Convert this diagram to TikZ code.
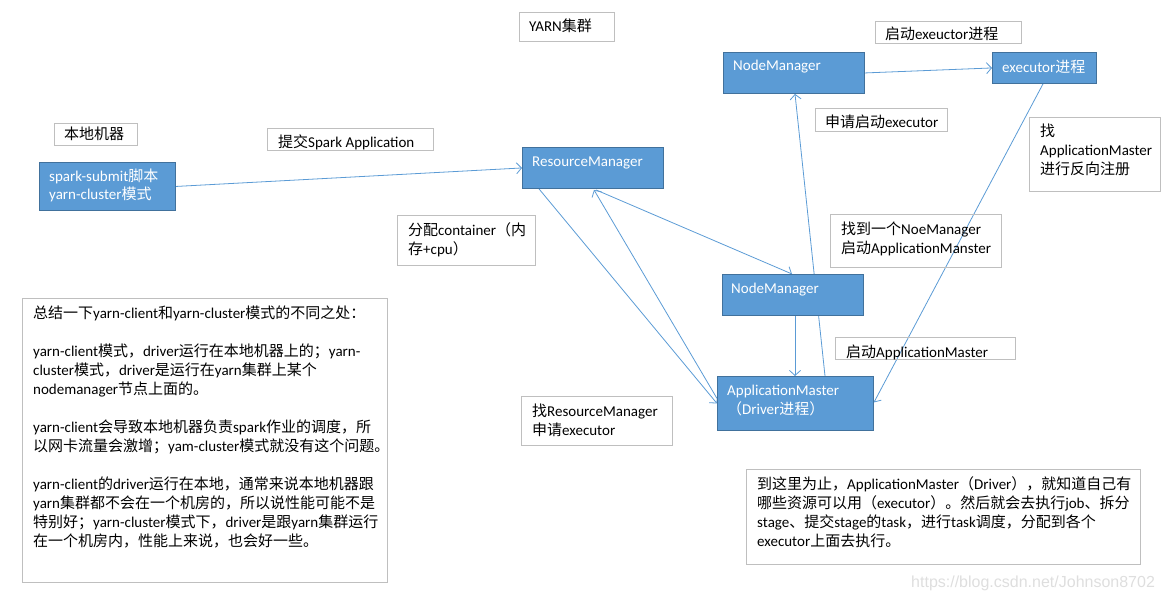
\documentclass[tikz,border=0pt]{standalone}
\usepackage{fontspec}
\setmainfont{Carlito}
\newfontfamily\cjk{Noto Sans CJK SC}
\newfontfamily\wmfont{Liberation Sans}
\usetikzlibrary{arrows.meta}

% switch to the CJK font for Chinese characters
\XeTeXinterchartokenstate=1
\newXeTeXintercharclass\zhclass
\newcount\zhc
\def\setzhrange#1#2{\zhc=#1\relax
  \loop\XeTeXcharclass\zhc=\zhclass\ifnum\zhc<#2\advance\zhc by 1\repeat}
\setzhrange{"3000}{"303F}
\setzhrange{"4E00}{"9FFF}
\setzhrange{"FF00}{"FFEF}
\XeTeXinterchartoks 0 \zhclass = {\begingroup\cjk}
\XeTeXinterchartoks 4095 \zhclass = {\begingroup\cjk}
\XeTeXinterchartoks \zhclass 0 = {\endgroup}
\XeTeXinterchartoks \zhclass 4095 = {\endgroup}

\definecolor{boxblue}{HTML}{5B9BD5}
\definecolor{boxedge}{HTML}{41719C}
\definecolor{linkblue}{HTML}{5B9BD5}
\definecolor{greyedge}{HTML}{BFBFBF}

\pgfdeclarelayer{bg}
\pgfsetlayers{bg,main}

\tikzset{
  bluebox/.style={draw=boxedge, fill=boxblue, line width=0.9pt, anchor=north west, inner sep=0pt},
  greybox/.style={draw=greyedge, line width=0.9pt, anchor=north west, inner sep=0pt},
  wtext/.style={text=white, align=left, inner sep=0pt, anchor=base west},
  ktext/.style={text=black, align=left, inner sep=0pt, anchor=base west},
  conn/.style={draw=linkblue, line width=0.8pt, -{Straight Barb[length=5pt,width=11pt]}},
}

\begin{document}
\begin{tikzpicture}[x=1pt, y=-1pt, font=\fontsize{15}{19}\selectfont]

  \useasboundingbox (0,0) rectangle (1162,599);

  %% Local machine
  % (multi-line texts are placed at the baseline of their last line)

  \node[greybox, minimum width=83, minimum height=22] (localbox) at (54,123) {};
  \node[ktext] (localtext) at (64,140) {本地机器};

  \node[bluebox, minimum width=136, minimum height=48] (spark) at (39,162) {};
  \node[wtext] (sparktext) at (49,200) {spark-submit脚本\\yarn-cluster模式};

  \node[greybox, minimum width=166, minimum height=22] (submitbox) at (267,128) {};
  \node[ktext] (submittext) at (278,148) {提交Spark Application};

  %% YARN cluster

  \node[greybox, minimum width=95, minimum height=29] (yarnbox) at (519,12) {};
  \node[ktext] (yarntext) at (529,32) {YARN集群};

  % ResourceManager
  \node[bluebox, minimum width=141, minimum height=41] (rm) at (522,147) {};
  \node[wtext] (rmtext) at (532,166) {ResourceManager};

  % NodeManager (top)
  \node[bluebox, minimum width=141, minimum height=41] (nm1) at (723,52) {};
  \node[wtext] (nm1text) at (733,71) {NodeManager};

  % executor
  \node[bluebox, minimum width=104, minimum height=31] (exe) at (992,52) {};
  \node[wtext] (exetext) at (1002,73) {executor进程};

  % NodeManager (middle)
  \node[bluebox, minimum width=141, minimum height=41] (nm2) at (722,274) {};
  \node[wtext] (nm2text) at (731,293) {NodeManager};

  % ApplicationMaster
  \node[bluebox, minimum width=156, minimum height=54] (am) at (717,376) {};
  \node[wtext] (amtext) at (727,414) {ApplicationMaster\\（Driver进程）};

  %% Step labels

  \node[greybox, minimum width=146, minimum height=22] (startexebox) at (875,21) {};
  \node[ktext] (startexetext) at (885,40) {启动exeuctor进程};

  \node[greybox, minimum width=132, minimum height=23] (askexebox) at (815,108) {};
  \node[ktext] (askexetext) at (825,128) {申请启动executor};

  \node[greybox, minimum width=131, minimum height=74] (registerbox) at (1029,117) {};
  \node[ktext] (registertext) at (1040,175) {找\\ApplicationMaster\\进行反向注册};

  \node[greybox, minimum width=138, minimum height=50] (containerbox) at (397,215) {};
  \node[ktext] (containertext) at (408,254) {分配container（内\\存+cpu）};

  \node[greybox, minimum width=171, minimum height=53] (findnmbox) at (830,214) {};
  \node[ktext] (findnmtext) at (841,253) {找到一个NoeManager\\启动ApplicationManster};

  \node[greybox, minimum width=180, minimum height=22] (startambox) at (835,337) {};
  \node[ktext] (startamtext) at (846,357) {启动ApplicationMaster};

  \node[greybox, minimum width=151, minimum height=49] (findrmbox) at (521,396) {};
  \node[ktext] (findrmtext) at (532,435) {找ResourceManager\\申请executor};

  %% Notes

  \node[greybox, minimum width=365, minimum height=284] (summarybox) at (22,298) {};
  \node[ktext] (summarytext) at (33,546) {总结一下yarn-client和yarn-cluster模式的不同之处：\\[19pt]
    yarn-client模式，driver运行在本地机器上的；yarn-\\
    cluster模式，driver是运行在yarn集群上某个\\
    nodemanager节点上面的。\\[19pt]
    yarn-client会导致本地机器负责spark作业的调度，所\\
    以网卡流量会激增；yam-cluster模式就没有这个问题。\\[19pt]
    yarn-client的driver运行在本地，通常来说本地机器跟\\
    yarn集群都不会在一个机房的，所以说性能可能不是\\
    特别好；yarn-cluster模式下，driver是跟yarn集群运行\\
    在一个机房内，性能上来说，也会好一些。};

  \node[greybox, minimum width=394, minimum height=95] (resultbox) at (746,469) {};
  \node[ktext] (resulttext) at (757,546) {到这里为止，ApplicationMaster（Driver），就知道自己有\\
    哪些资源可以用（executor）。然后就会去执行job、拆分\\
    stage、提交stage的task，进行task调度，分配到各个\\
    executor上面去执行。};

  \node[text=black!13, inner sep=0pt, anchor=base west, font=\wmfont\fontsize{16}{18}\selectfont]
    (watermark) at (911,587) {https://blog.csdn.net/Johnson8702};

  %% Connectors
  \begin{pgfonlayer}{bg}
    \draw[conn] (spark.east) -- (rm.west);
    \draw[conn] ([shift={(17,0)}]rm.south west) -- (am.west);
    \draw[conn] ([shift={(0,-5)}]am.west) -- ([shift={(72,1)}]rm.south west);
    \draw[conn] ([shift={(74,1)}]rm.south west) -- ([shift={(70,0)}]nm2.north west);
    \draw[conn] ([shift={(73,0)}]nm2.south west) -- ([shift={(78,0)}]am.north west);
    \draw[conn] ([shift={(108,0)}]am.north west) -- ([shift={(72,0)}]nm1.south west);
    \draw[conn] (nm1.east) -- (exe.west);
    \draw[conn] ([shift={(51,0)}]exe.south west) -- ([shift={(0,-1)}]am.east);
  \end{pgfonlayer}

\end{tikzpicture}
\end{document}
